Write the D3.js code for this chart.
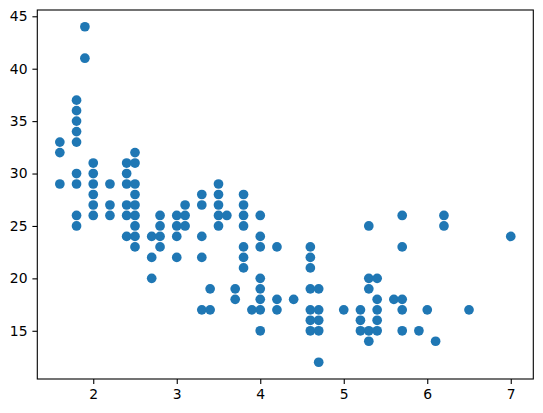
<!DOCTYPE html>
<html>
<head>
<meta charset="utf-8">
<script src="https://cdn.jsdelivr.net/npm/d3@7"></script>
<style>
  html, body { margin: 0; padding: 0; background: #fff; }
  svg { display: block; }
  .tick text { font-family: "DejaVu Sans", sans-serif; font-size: 13.9px; fill: #000; }
</style>
</head>
<body>
<svg id="chart" width="543" height="413"></svg>
<script>
const displ = [
  1.6,1.6,1.6,
  1.8,1.8,1.8,1.8,1.8,1.8,1.8,1.8,1.8,
  1.9,1.9,
  2.0,2.0,2.0,2.0,2.0,2.0,
  2.2,2.2,2.2,
  2.4,2.4,2.4,2.4,2.4,2.4,
  2.5,2.5,2.5,2.5,2.5,2.5,2.5,2.5,2.5,
  2.7,2.7,2.7,
  2.8,2.8,2.8,2.8,
  3.0,3.0,3.0,3.0,
  3.1,3.1,3.1,
  3.3,3.3,3.3,3.3,3.3,
  3.4,3.4,
  3.5,3.5,3.5,3.5,3.5,
  3.6,
  3.7,3.7,
  3.8,3.8,3.8,3.8,3.8,3.8,3.8,
  3.9,
  4.0,4.0,4.0,4.0,4.0,4.0,4.0,4.0,
  4.2,4.2,4.2,
  4.4,
  4.6,4.6,4.6,4.6,4.6,4.6,4.6,
  4.7,4.7,4.7,4.7,4.7,
  5.0,
  5.2,5.2,5.2,
  5.3,5.3,5.3,5.3,5.3,
  5.4,5.4,5.4,5.4,5.4,
  5.6,
  5.7,5.7,5.7,5.7,5.7,
  5.9,
  6.0,
  6.1,
  6.2,6.2,
  6.5,
  7.0
];
const hwy = [
  33,32,29,
  37,36,35,34,33,30,29,26,25,
  44,41,
  31,30,29,28,27,26,
  29,27,26,
  31,30,29,27,26,24,
  32,31,29,28,27,26,25,24,23,
  24,22,20,
  26,25,24,23,
  26,25,24,22,
  27,26,25,
  28,27,24,22,17,
  19,17,
  29,28,27,26,25,
  26,
  19,18,
  28,27,26,25,23,22,21,
  17,
  26,24,23,20,19,18,17,15,
  23,18,17,
  18,
  23,22,21,19,17,16,15,
  19,17,16,15,12,
  17,
  17,16,15,
  25,20,19,15,14,
  20,18,17,16,15,
  18,
  26,23,18,17,15,
  15,
  17,
  14,
  26,25,
  17,
  24
];
const xTicks = [2, 3, 4, 5, 6, 7];
const yTicks = [15, 20, 25, 30, 35, 40, 45];

const svg = d3.select("#chart");
const mLeft = 37.3, mRight = 533.3, mTop = 10, mBottom = 379;

const x = d3.scaleLinear().domain([1.33, 7.27]).range([mLeft, mRight]);
const y = d3.scaleLinear().domain([10.4, 45.6]).range([mBottom, mTop]);

// points
svg.append("g")
  .selectAll("circle")
  .data(displ.map((d, i) => [d, hwy[i]]))
  .join("circle")
  .attr("cx", d => x(d[0]))
  .attr("cy", d => y(d[1]))
  .attr("r", 4.85)
  .attr("fill", "#1f77b4");

// axes
const xAxis = d3.axisBottom(x).tickValues(xTicks).tickFormat(d3.format("d")).tickSize(4.9).tickPadding(4.9);
const yAxis = d3.axisLeft(y).tickValues(yTicks).tickFormat(d3.format("d")).tickSize(4.9).tickPadding(4.9);

const gx = svg.append("g").attr("transform", `translate(0,${mBottom})`).call(xAxis);
const gy = svg.append("g").attr("transform", `translate(${mLeft},0)`).call(yAxis);
[gx, gy].forEach(g => {
  g.select(".domain").remove();
  g.selectAll(".tick line").attr("stroke", "#000").attr("stroke-width", 1.1);
});

// frame (spines)
svg.append("rect")
  .attr("x", mLeft).attr("y", mTop)
  .attr("width", mRight - mLeft).attr("height", mBottom - mTop)
  .attr("fill", "none").attr("stroke", "#000").attr("stroke-width", 1.1);
</script>
</body>
</html>
